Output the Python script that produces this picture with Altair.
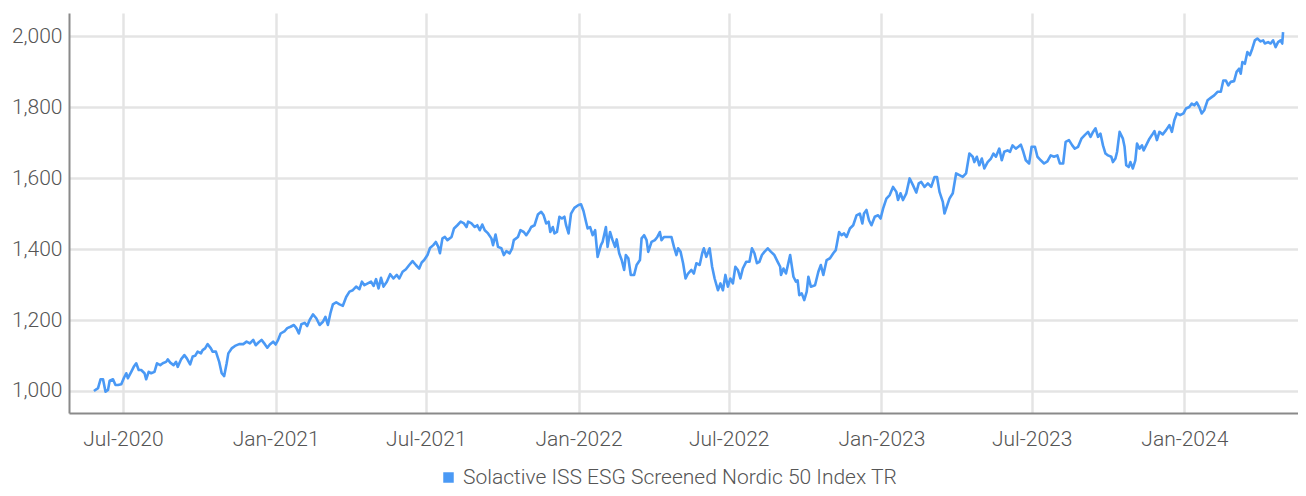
import altair as alt
import pandas as pd

SERIES = "Solactive ISS ESG Screened Nordic 50 Index TR"
LINE_COLOR = "#4a99f5"
FONT = "Roboto"

d2020 = ["05-27","06-01","06-04","06-07","06-10","06-13","06-15","06-19","06-22","06-25","06-29",
         "07-02","07-05","07-07","07-11","07-14","07-17","07-20","07-23","07-27","07-29",
         "08-01","08-04","08-08","08-11","08-15","08-18","08-22","08-24","08-27","08-31",
         "09-03","09-05","09-09","09-13","09-16","09-20","09-23","09-26","09-29",
         "10-03","10-05","10-08","10-11","10-15","10-17","10-21","10-25","10-28","10-31",
         "11-03","11-05","11-09","11-13","11-18","11-23","11-27",
         "12-01","12-05","12-08","12-11","12-15","12-19","12-22","12-25","12-29"]
v2020 = [1000,1008,1033,1033,998,1003,1029,1033,1017,1017,1019,
         1036,1050,1036,1054,1068,1078,1059,1059,1050,1033,
         1054,1050,1054,1078,1073,1078,1082,1089,1080,1073,
         1082,1068,1089,1101,1092,1075,1097,1099,1111,
         1106,1115,1120,1132,1120,1111,1111,1082,1050,1042,
         1078,1106,1120,1127,1132,1132,1139,
         1134,1144,1129,1136,1144,1132,1122,1131,1139]

d2021 = ["01-01","01-04","01-07","01-12","01-15","01-19","01-23","01-26","01-29",
         "02-01","02-05","02-08","02-11","02-15","02-19","02-23","02-27",
         "03-02","03-05","03-08","03-11","03-15","03-19","03-23","03-27","03-31",
         "04-04","04-08","04-12","04-15","04-18","04-22","04-26","04-29",
         "05-02","05-05","05-08","05-11","05-15","05-19","05-23","05-27","05-30",
         "06-03","06-07","06-11","06-15","06-19","06-23","06-26","06-29",
         "07-03","07-06","07-10","07-13","07-16","07-18","07-21","07-24","07-27",
         "08-01","08-04","08-08","08-12","08-16","08-19","08-21","08-25","08-29",
         "09-01","09-04","09-07","09-10","09-14","09-18","09-20","09-23","09-26","09-30",
         "10-03","10-06","10-10","10-13","10-15","10-20","10-23","10-27","10-30",
         "11-03","11-05","11-09","11-13","11-17","11-20","11-23","11-26","11-28",
         "12-01","12-03","12-06","12-09","12-12","12-15","12-17","12-20","12-23","12-27"]
v2021 = [1131,1144,1162,1169,1177,1181,1186,1177,1162,
         1188,1192,1183,1200,1216,1205,1186,1195,
         1209,1186,1219,1244,1250,1244,1240,1265,1280,
         1284,1294,1287,1308,1298,1303,1308,1296,
         1315,1289,1319,1294,1308,1329,1317,1327,1317,
         1336,1343,1355,1366,1355,1345,1362,1369,
         1383,1403,1411,1420,1406,1388,1430,1434,1425,
         1434,1458,1467,1477,1472,1462,1477,1472,1462,
         1467,1453,1469,1453,1444,1430,1411,1441,1406,1402,
         1383,1394,1388,1402,1425,1434,1453,1448,1439,
         1453,1462,1467,1497,1505,1495,1472,1477,1448,
         1462,1444,1448,1491,1486,1491,1467,1444,1500,1516]

d2022 = ["01-01","01-04","01-07","01-10","01-12","01-15","01-18","01-21","01-24","01-28","01-30",
         "02-03","02-05","02-08","02-11","02-14","02-16","02-19","02-22","02-25","02-27",
         "03-02","03-05","03-09","03-12","03-16","03-18","03-21","03-24","03-26","03-30",
         "04-03","04-06","04-09","04-11","04-14","04-19","04-23","04-26","04-29",
         "05-01","05-04","05-07","05-10","05-13","05-17","05-20","05-23","05-27","05-30",
         "06-01","06-04","06-08","06-11","06-14","06-18","06-21","06-24","06-27","06-30",
         "07-03","07-06","07-09","07-12","07-15","07-18","07-22","07-26","07-29",
         "08-01","08-04","08-07","08-10","08-13","08-17","08-21","08-25","08-29",
         "09-01","09-02","09-05","09-08","09-13","09-17","09-20","09-22","09-24","09-27","09-30",
         "10-03","10-05","10-08","10-13","10-17","10-20","10-23","10-27","10-31",
         "11-04","11-07","11-11","11-14","11-17","11-20","11-24","11-28",
         "12-02","12-06","12-09","12-11","12-14","12-17","12-20","12-24","12-28","12-31"]
v2022 = [1524,1526,1507,1477,1458,1462,1439,1453,1378,1411,1420,
         1462,1406,1448,1425,1406,1427,1388,1369,1341,1383,
         1374,1327,1327,1355,1369,1430,1439,1425,1392,1420,
         1425,1434,1448,1425,1434,1434,1434,1406,1383,
         1402,1392,1360,1317,1331,1341,1331,1360,1355,1388,
         1402,1378,1402,1350,1317,1284,1303,1284,1327,1294,
         1317,1303,1350,1341,1317,1345,1364,1364,1402,
         1388,1360,1364,1383,1392,1402,1392,1383,1364,
         1350,1327,1345,1331,1383,1322,1308,1312,1270,1275,1256,
         1280,1322,1294,1298,1336,1355,1327,1369,1374,
         1388,1397,1448,1439,1444,1434,1458,1467,
         1495,1500,1472,1500,1510,1481,1467,1491,1495,1486]

d2023 = ["01-03","01-07","01-11","01-15","01-19","01-21","01-24","01-27","01-31",
         "02-04","02-08","02-12","02-15","02-18","02-22","02-26",
         "03-02","03-06","03-09","03-12","03-16","03-18","03-24","03-28",
         "04-01","04-05","04-09","04-13","04-17","04-21","04-23","04-26","04-29",
         "05-02","05-05","05-09","05-13","05-16","05-19","05-23","05-26","05-29",
         "06-02","06-05","06-08","06-12","06-15","06-18","06-21","06-24","06-28",
         "07-01","07-05","07-08","07-12","07-16","07-20","07-24","07-28",
         "08-01","08-04","08-08","08-11","08-15","08-19","08-22","08-26","08-30",
         "09-03","09-07","09-10","09-13","09-16","09-19","09-22","09-25","09-28",
         "10-01","10-05","10-07","10-10","10-12","10-15","10-19","10-21","10-23","10-26","10-28","10-31",
         "11-03","11-05","11-08","11-11","11-13","11-17","11-20","11-23","11-26","11-29",
         "12-02","12-06","12-10","12-14","12-17","12-20","12-23","12-27","12-31"]
v2023 = [1514,1542,1552,1575,1561,1538,1557,1538,1557,
         1599,1580,1559,1585,1589,1575,1585,
         1575,1603,1603,1561,1533,1500,1542,1557,
         1613,1608,1603,1613,1669,1660,1645,1660,1636,
         1655,1627,1645,1655,1669,1660,1683,1650,1674,
         1678,1674,1692,1683,1688,1694,1674,1650,1641,
         1688,1688,1660,1650,1641,1647,1664,1660,
         1664,1641,1641,1702,1707,1692,1683,1688,1711,
         1721,1730,1716,1730,1740,1716,1725,1692,1669,
         1664,1660,1645,1655,1674,1730,1711,1688,1636,1631,1645,1627,
         1650,1697,1683,1692,1678,1697,1711,1721,1732,1707,
         1730,1723,1735,1749,1730,1763,1782,1777,1782]

d2024 = ["01-03","01-07","01-10","01-13","01-16","01-19","01-22","01-25","01-29",
         "02-03","02-06","02-10","02-14","02-17","02-20","02-23","02-26",
         "03-01","03-04","03-07","03-09","03-11","03-14","03-17","03-20","03-23","03-26","03-29",
         "04-02","04-05","04-07","04-11","04-14","04-17","04-20","04-23","04-26","04-28","04-29"]
v2024 = [1796,1800,1810,1805,1813,1800,1782,1791,1819,
         1828,1833,1843,1843,1875,1875,1861,1871,
         1873,1899,1908,1894,1927,1922,1955,1946,1965,1988,1993,
         1985,1988,1979,1983,1979,1988,1969,1983,1988,1979,2011]

x_tick_dates = ["2020-07-01", "2021-01-01", "2021-07-01", "2022-01-01",
                "2022-07-01", "2023-01-01", "2023-07-01", "2024-01-01"]
y_ticks = [1000, 1200, 1400, 1600, 1800, 2000]
x_domain = ["2020-04-27", "2024-05-17"]
y_domain = [938, 2065]

dates, values = [], []
for year, ds, vs in [(2020, d2020, v2020), (2021, d2021, v2021), (2022, d2022, v2022),
                     (2023, d2023, v2023), (2024, d2024, v2024)]:
    dates += [f"{year}-{d}" for d in ds]
    values += vs

df = pd.DataFrame({"date": pd.to_datetime(dates), "value": values, "series": SERIES})


def dt(s):
    y, m, d = (int(p) for p in s.split("-"))
    return alt.DateTime(year=y, month=m, date=d)


chart = alt.Chart(df).mark_line(strokeWidth=2.6, strokeJoin="round").encode(
    x=alt.X("date:T",
            scale=alt.Scale(domain=[dt(s) for s in x_domain]),
            axis=alt.Axis(values=[dt(s) for s in x_tick_dates], format="%b-%Y", title=None,
                          labelPadding=15, labelOverlap=False, labelFlush=False)),
    y=alt.Y("value:Q",
            scale=alt.Scale(domain=y_domain, nice=False, zero=False),
            axis=alt.Axis(values=y_ticks, format=",.0f", title=None, labelPadding=7,
                          labelOverlap=False)),
    color=alt.Color("series:N", scale=alt.Scale(range=[LINE_COLOR]),
                    legend=alt.Legend(title=None, orient="none", legendX=369, legendY=454,
                                      symbolType="square", symbolSize=110,
                                      symbolFillColor=LINE_COLOR, symbolStrokeWidth=0,
                                      labelFont=FONT, labelFontSize=21, labelFontWeight=300,
                                      labelColor="#555555", labelOffset=4, labelLimit=0,
                                      padding=0)),
).properties(
    width=1229,
    height=400,
    autosize=alt.AutoSizeParams(type="none"),
    padding={"left": 61, "top": 5, "right": 0, "bottom": 75},
).configure_view(stroke=None).configure_axis(
    labelFont=FONT, labelFontSize=21, labelFontWeight=300, labelColor="#555555",
    grid=True, gridColor="#e4e4e4", gridWidth=2.5,
    domainColor="#8a8a8a", domainWidth=2, ticks=False,
)

chart.save("out.html", embed_options={"renderer": "svg", "actions": False})
